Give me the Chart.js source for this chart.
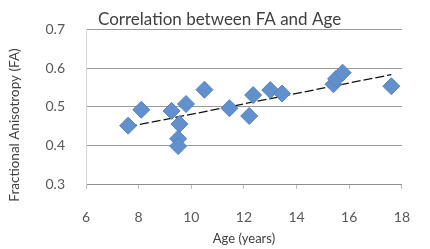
<!DOCTYPE html>
<html>
<head>
<meta charset="utf-8">
<script src="https://cdn.jsdelivr.net/npm/chart.js@4/dist/chart.umd.min.js"></script>
<style>
  html, body { margin: 0; padding: 0; background: #fff; }
  #wrap { position: relative; width: 430px; height: 249px; }
</style>
</head>
<body>
<div id="wrap"><canvas id="chart"></canvas></div>
<script>
// values
const ages = [7.6, 8.1, 9.25, 9.8, 9.55, 9.5, 9.5, 10.5, 11.45, 12.2, 12.35, 13.0, 13.45, 15.4, 15.5, 15.75, 17.6];
const faValues = [0.451, 0.492, 0.489, 0.507, 0.455, 0.417, 0.398, 0.544, 0.496, 0.476, 0.530, 0.543, 0.534, 0.558, 0.572, 0.588, 0.553];
const trendAges = [7.6, 17.6];
const trendFa = [0.448, 0.583];
const xTicks = [6, 8, 10, 12, 14, 16, 18];
const yTicks = [0.3, 0.4, 0.5, 0.6, 0.7];

const chartTitle = "Correlation between FA and Age";
const xTitle = "Age (years)";
const yTitle = "Fractional Anisotropy (FA)";

const fontFamily = "Lato, 'Open Sans', sans-serif";

// titles sit off-centre in the original, so draw them by hand
const titlesPlugin = {
  id: "titles",
  afterDraw(chart) {
    const ctx = chart.ctx;
    ctx.save();
    ctx.fillStyle = "#404040";
    ctx.font = "17px " + fontFamily;
    ctx.textBaseline = "alphabetic";
    ctx.textAlign = "left";
    ctx.fillText(chartTitle, 98, 25);

    ctx.font = "13.5px " + fontFamily;
    ctx.translate(15, 125);
    ctx.rotate(-Math.PI / 2);
    ctx.textAlign = "center";
    ctx.textBaseline = "middle";
    ctx.fillText(yTitle, 0, 0);
    ctx.restore();
  }
};

const points = ages.map((a, i) => ({ x: a, y: faValues[i] }));
const trend = trendAges.map((a, i) => ({ x: a, y: trendFa[i] }));

new Chart(document.getElementById("chart"), {
  type: "scatter",
  data: {
    datasets: [
      {
        label: "FA",
        data: points,
        pointStyle: "rectRot",
        pointRadius: 8.5,
        pointHoverRadius: 8.5,
        backgroundColor: "#6290cc",
        borderColor: "#5582c2",
        borderWidth: 1
      },
      {
        label: "Linear trend",
        type: "line",
        data: trend,
        borderColor: "#111",
        borderWidth: 1.3,
        borderDash: [9, 3],
        pointRadius: 0,
        fill: false
      }
    ]
  },
  options: {
    responsive: true,
    maintainAspectRatio: false,
    animation: false,
    layout: { padding: { top: 29, right: 8, left: 0, bottom: 0 } },
    plugins: {
      legend: { display: false },
      title: { display: false },
      tooltip: { enabled: false }
    },
    scales: {
      x: {
        type: "linear",
        min: 6,
        max: 18,
        afterBuildTicks: axis => { axis.ticks = xTicks.map(v => ({ value: v })); },
        afterFit: axis => { axis.height = 65; },
        grid: { drawOnChartArea: false, drawTicks: true, tickLength: 5, color: "#bfbfbf" },
        border: { color: "#8c8c8c" },
        ticks: { color: "#595959", font: { family: fontFamily, size: 14 }, padding: 20 },
        title: {
          display: true,
          text: xTitle,
          color: "#404040",
          font: { family: fontFamily, size: 13 },
          padding: { top: 0, bottom: 2 }
        }
      },
      y: {
        min: 0.3,
        max: 0.7,
        afterBuildTicks: axis => { axis.ticks = yTicks.map(v => ({ value: v })); },
        afterFit: axis => { axis.width = 86; },
        grid: { color: "#9a9a9a", drawTicks: false },
        border: { color: "#d9d9d9" },
        ticks: {
          color: "#595959",
          font: { family: fontFamily, size: 14 },
          padding: 21,
          callback: v => v.toFixed(1)
        }
      }
    }
  },
  plugins: [titlesPlugin]
});
</script>
</body>
</html>
